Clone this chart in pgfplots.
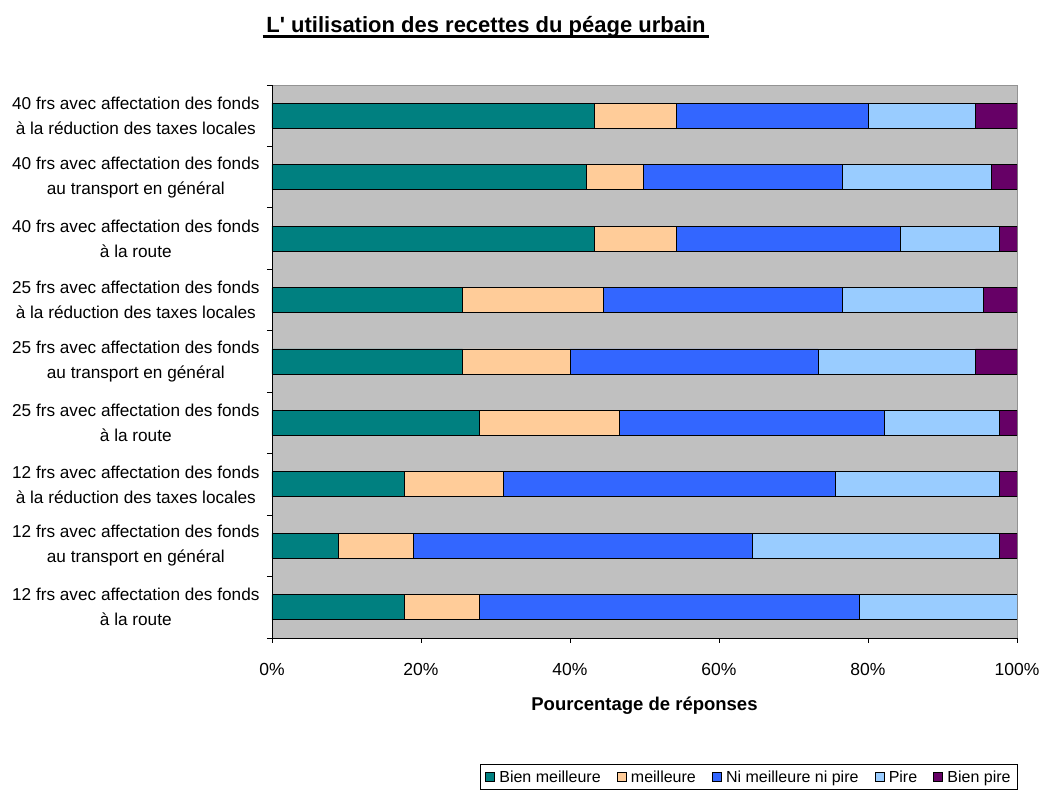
\documentclass[border=0pt]{standalone}
\usepackage{fontspec}
\setmainfont{Liberation Sans}
\usepackage{pgfplots}
\usepackage{pgfplotstable}
\pgfplotsset{compat=1.18}

\definecolor{cBienMeilleure}{HTML}{008080}
\definecolor{cMeilleure}{HTML}{FFCC99}
\definecolor{cNi}{HTML}{3366FF}
\definecolor{cPire}{HTML}{99CCFF}
\definecolor{cBienPire}{HTML}{660066}
\definecolor{plotbg}{HTML}{C0C0C0}

% one row per scenario, bottom (y=0) to top (y=8); shares in percent
\pgfplotstableread{
y  bm    m     ni    p     bp
0  17.8  10.0  51.1  21.1  0.0
1  8.9   10.1  45.5  33.2  2.3
2  17.8  13.3  44.5  22.1  2.3
3  27.8  18.9  35.5  15.5  2.3
4  25.6  14.4  33.3  21.1  5.6
5  25.6  18.9  32.1  18.9  4.5
6  43.3  11.0  30.1  13.3  2.3
7  42.2  7.7   26.7  20.0  3.4
8  43.3  11.0  25.7  14.4  5.6
}\recettes

\begin{document}
\begin{tikzpicture}
\useasboundingbox (-272pt,-153pt) rectangle (772pt,638pt);
\node[font=\fontsize{22}{26}\selectfont\bfseries, anchor=base, inner sep=0pt] at (214pt,605pt)
  {L\textquotesingle{} utilisation des recettes du péage urbain};
% title underline
\draw[line width=2.4pt] (-9.3pt,601.5pt) -- (437pt,601.5pt);
\begin{axis}[
  scale only axis,
  width=745pt, height=553pt,
  xbar stacked,
  bar width=25pt,
  xmin=0, xmax=100,
  ymin=-0.5, ymax=8.5,
  axis background/.style={fill=plotbg, draw=gray!85},
  axis x line*=bottom,
  axis y line*=left,
  axis line style={black, line width=0.8pt},
  /pgf/number format/assume math mode=true,
  xtick={0,20,...,100},
  xticklabel={\pgfmathprintnumber{\tick}\%},
  x tick label style={font=\fontsize{17.5}{20}\selectfont, yshift=-17pt},
  xtick style={black, line width=0.8pt},
  tick align=outside,
  major tick length=5pt,
  minor tick length=5pt,
  ytick={0,...,8},
  yticklabels={
    {12 frs avec affectation des fonds\\à la route},
    {12 frs avec affectation des fonds\\au transport en général},
    {12 frs avec affectation des fonds\\à la réduction des taxes locales},
    {25 frs avec affectation des fonds\\à la route},
    {25 frs avec affectation des fonds\\au transport en général},
    {25 frs avec affectation des fonds\\à la réduction des taxes locales},
    {40 frs avec affectation des fonds\\à la route},
    {40 frs avec affectation des fonds\\au transport en général},
    {40 frs avec affectation des fonds\\à la réduction des taxes locales}},
  y tick label style={font=\fontsize{17.2}{25}\selectfont, align=center, xshift=-4pt},
  ytick style={draw=none},
  minor ytick={-0.5,0.5,...,8.5},
  minor y tick style={draw=black, line width=0.8pt},
  xlabel={\textbf{Pourcentage de réponses}},
  xlabel style={font=\fontsize{18.5}{20}\selectfont, at={(axis description cs:0.5,-0.123)}, anchor=center},
  every axis plot/.append style={draw=black, line width=0.9pt},
  legend columns=5,
  legend style={at={(1.0013,-0.2749)}, anchor=south east,
    draw=black, line width=0.8pt, fill=white,
    font=\fontsize{16}{18}\selectfont,
    inner ysep=4pt, inner xsep=5pt,
    /tikz/every odd column/.append style={column sep=2.5pt},
    /tikz/every even column/.append style={column sep=14pt}},
  legend image code/.code={\draw[#1, draw=black, line width=0.7pt] (0pt,-4.5pt) rectangle (9pt,4.5pt);},
]
\addplot[fill=cBienMeilleure] table[x=bm, y=y] {\recettes};
\addplot[fill=cMeilleure] table[x=m, y=y] {\recettes};
\addplot[fill=cNi] table[x=ni, y=y] {\recettes};
\addplot[fill=cPire] table[x=p, y=y] {\recettes};
\addplot[fill=cBienPire] table[x=bp, y=y] {\recettes};
\legend{Bien meilleure, meilleure, Ni meilleure ni pire, Pire, Bien pire}
\end{axis}
\end{tikzpicture}
\end{document}
